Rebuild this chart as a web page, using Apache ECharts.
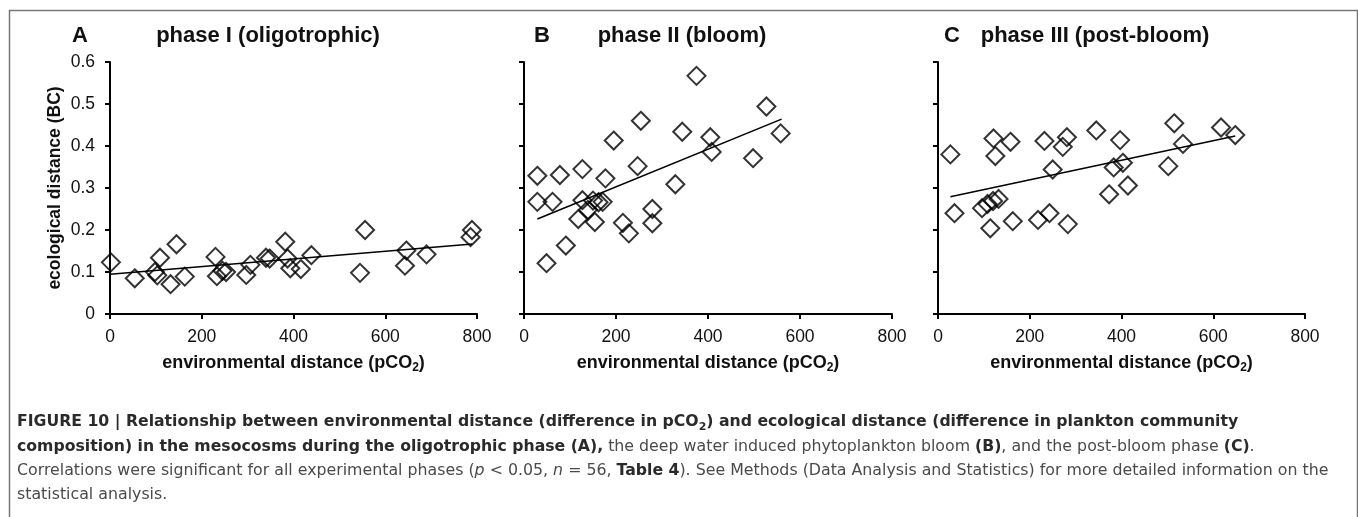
<!DOCTYPE html>
<html>
<head>
<meta charset="utf-8">
<script src="https://cdn.jsdelivr.net/npm/echarts@6/dist/echarts.min.js"></script>
<style>
html,body{margin:0;padding:0;background:#fff;}
#chart{width:1358px;height:517px;}
</style>
</head>
<body>
<div id="chart"></div>
<script>
// ---------- data ----------
const xTicks = [0, 200, 400, 600, 800];
const yTicks = [0, 0.1, 0.2, 0.3, 0.4, 0.5, 0.6];

const panelLetters = ['A', 'B', 'C'];
const panelTitles = ['phase I (oligotrophic)', 'phase II (bloom)', 'phase III (post-bloom)'];

const phaseA_x = [2, 54, 98, 103, 109, 132, 145, 163, 230, 233, 245, 253, 297, 306, 340, 348, 382, 387, 393, 416, 439, 545, 556, 643, 646, 690, 786, 789];
const phaseA_y = [0.123, 0.085, 0.100, 0.092, 0.134, 0.071, 0.166, 0.089, 0.136, 0.090, 0.103, 0.100, 0.093, 0.117, 0.134, 0.132, 0.172, 0.132, 0.109, 0.107, 0.140, 0.098, 0.200, 0.115, 0.151, 0.142, 0.183, 0.200];

const phaseB_x = [29, 29, 49, 62, 78, 91, 118, 127, 127, 139, 150, 154, 162, 171, 177, 195, 215, 228, 247, 254, 279, 279, 329, 344, 375, 405, 408, 498, 527, 558];
const phaseB_y = [0.329, 0.267, 0.121, 0.267, 0.331, 0.163, 0.226, 0.345, 0.271, 0.248, 0.270, 0.219, 0.266, 0.267, 0.323, 0.413, 0.217, 0.192, 0.352, 0.460, 0.216, 0.250, 0.309, 0.434, 0.567, 0.421, 0.386, 0.371, 0.494, 0.430];

const phaseC_x = [27, 36, 96, 108, 114, 120, 121, 125, 132, 158, 163, 218, 232, 243, 250, 272, 281, 283, 345, 373, 383, 397, 403, 414, 502, 515, 534, 617, 648];
const phaseC_y = [0.380, 0.240, 0.252, 0.262, 0.204, 0.269, 0.418, 0.376, 0.274, 0.410, 0.221, 0.224, 0.412, 0.240, 0.344, 0.398, 0.421, 0.214, 0.437, 0.285, 0.349, 0.414, 0.360, 0.306, 0.352, 0.454, 0.405, 0.444, 0.426];

// regression line endpoints [x, y]
const trendA = [[0, 0.0945], [790, 0.1667]];
const trendB = [[29, 0.226], [560, 0.464]];
const trendC = [[27, 0.279], [648, 0.424]];

// ---------- chart ----------
const FONT = '"Liberation Sans", Arial, sans-serif';
const CAPFONT = '"DejaVu Sans", "Liberation Sans", sans-serif';
const chart = echarts.init(document.getElementById('chart'), null, {renderer: 'canvas'});

const gridLefts = [110, 524, 938];
const gridWidths = [367, 368, 367];
const letterX = [80, 542, 952];
const titleX = [268, 682, 1095];

function zip(xs, ys) { return xs.map((x, i) => [x, ys[i]]); }
const scatterData = [zip(phaseA_x, phaseA_y), zip(phaseB_x, phaseB_y), zip(phaseC_x, phaseC_y)];
const trends = [trendA, trendB, trendC];

const grids = [], xAxes = [], yAxes = [], series = [];
for (let i = 0; i < 3; i++) {
  grids.push({left: gridLefts[i], top: 62, width: gridWidths[i], height: 252, containLabel: false});
  xAxes.push({
    type: 'value', gridIndex: i, min: xTicks[0], max: xTicks[xTicks.length - 1], interval: xTicks[1] - xTicks[0],
    axisLine: {show: true, onZero: false, lineStyle: {color: '#000', width: 2}},
    axisTick: {show: true, length: 5, lineStyle: {color: '#000', width: 2}},
    axisLabel: {show: true, fontSize: 17.5, color: '#111', fontFamily: FONT, margin: 14},
    splitLine: {show: false},
    name: '{a|environmental distance (pCO}{s|2}{a|)}',
    nameLocation: 'middle', nameGap: 38,
    nameTextStyle: {
      fontFamily: FONT, fontSize: 18, fontWeight: 'bold', color: '#111',
      rich: {
        a: {fontFamily: FONT, fontSize: 18, fontWeight: 'bold', color: '#111', lineHeight: 22},
        s: {fontFamily: FONT, fontSize: 12, fontWeight: 'bold', color: '#111', lineHeight: 12, verticalAlign: 'bottom'}
      }
    }
  });
  yAxes.push({
    type: 'value', gridIndex: i, min: yTicks[0], max: yTicks[yTicks.length - 1], interval: 0.1,
    axisLine: {show: true, onZero: false, lineStyle: {color: '#000', width: 2}},
    axisTick: {show: true, length: 5, lineStyle: {color: '#000', width: 2}},
    axisLabel: {show: i === 0, fontSize: 17.5, color: '#111', fontFamily: FONT, margin: 15},
    splitLine: {show: false},
    name: i === 0 ? 'ecological distance (BC)' : '',
    nameLocation: 'middle', nameGap: 46, nameRotate: 90,
    nameTextStyle: {fontFamily: FONT, fontSize: 17.5, fontWeight: 'bold', color: '#111'}
  });
  series.push({
    type: 'scatter', xAxisIndex: i, yAxisIndex: i, data: scatterData[i],
    symbol: 'diamond', symbolSize: 18,
    itemStyle: {color: 'rgba(255,255,255,0)', borderColor: '#000', borderWidth: 2},
    emphasis: {disabled: true}, silent: true, z: 3
  });
  series.push({
    type: 'line', xAxisIndex: i, yAxisIndex: i, data: trends[i],
    showSymbol: false, symbol: 'none', lineStyle: {color: '#000', width: 1.6},
    silent: true, z: 2, animation: false
  });
}

const graphics = [
  {type: 'rect', left: 7, top: 8, shape: {x: 0, y: 0, width: 1348, height: 530},
   style: {fill: 'none', stroke: '#777', lineWidth: 1.5}, silent: true, z: 0}
];
for (let i = 0; i < 3; i++) {
  graphics.push({type: 'text', x: letterX[i], y: 36,
    style: {text: panelLetters[i], font: 'bold 22px ' + FONT, fill: '#111', textAlign: 'center', textVerticalAlign: 'middle'}});
  graphics.push({type: 'text', x: titleX[i], y: 36,
    style: {text: panelTitles[i], font: 'bold 22px ' + FONT, fill: '#111', textAlign: 'center', textVerticalAlign: 'middle'}});
}

const capRich = {
  b: {fontFamily: CAPFONT, fontSize: 15.7, fontWeight: 'bold', fill: '#2a2a2a', color: '#2a2a2a', lineHeight: 22},
  bs: {fontFamily: CAPFONT, fontSize: 11, fontWeight: 'bold', fill: '#2a2a2a', color: '#2a2a2a', lineHeight: 11, verticalAlign: 'bottom'},
  r: {fontFamily: CAPFONT, fontSize: 15.8, fill: '#4a4a4a', color: '#4a4a4a', lineHeight: 22},
  i: {fontFamily: CAPFONT, fontSize: 15.8, fontStyle: 'italic', fill: '#4a4a4a', color: '#4a4a4a', lineHeight: 22}
};
const captionLines = [
  '{b|FIGURE 10 | Relationship between environmental distance (difference in pCO}{bs|2}{b|) and ecological distance (difference in plankton community}',
  '{b|composition) in the mesocosms during the oligotrophic phase (A),}{r| the deep water induced phytoplankton bloom }{b|(B)}{r|, and the post-bloom phase }{b|(C)}{r|.}',
  '{r|Correlations were significant for all experimental phases (}{i|p}{r| < 0.05, }{i|n}{r| = 56, }{b|Table 4}{r|). See Methods (Data Analysis and Statistics) for more detailed information on the}',
  '{r|statistical analysis.}'
];
const capY = [421.5, 446.5, 471, 495];
captionLines.forEach((t, k) => {
  graphics.push({type: 'text', x: 17, y: capY[k],
    style: {text: t, rich: capRich, textAlign: 'left', textVerticalAlign: 'middle'}});
});

chart.setOption({
  backgroundColor: '#fff',
  animation: false,
  grid: grids, xAxis: xAxes, yAxis: yAxes, series: series,
  graphic: graphics
});
</script>
</body>
</html>
